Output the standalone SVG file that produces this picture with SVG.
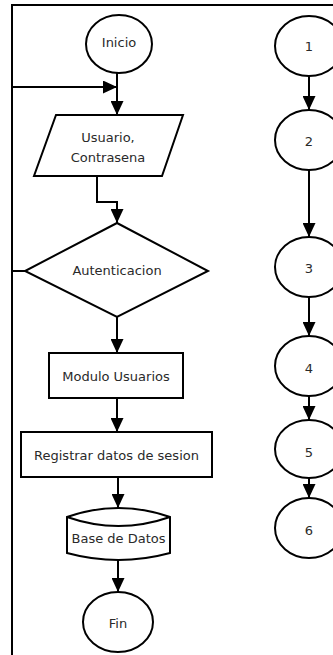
<svg xmlns="http://www.w3.org/2000/svg" width="333" height="655" viewBox="0 0 333 655">
<defs>
<style>
.s{fill:#fff;stroke:#000;stroke-width:2}
.c{fill:none;stroke:#000;stroke-width:2}
.t{font-family:"DejaVu Sans",Verdana,sans-serif;font-size:13px;fill:#2a2a2a;text-anchor:middle;dominant-baseline:central}
</style>
<marker id="a" markerUnits="userSpaceOnUse" markerWidth="14" markerHeight="13" refX="14" refY="6.5" orient="auto">
<path d="M0,0 L14,6.5 L0,13 z" fill="#000"/>
</marker>
</defs>
<rect width="333" height="655" fill="#fff"/>
<path class="c" d="M12,655 V5 H333"/>
<g id="connectors">
<path class="c" d="M117,73 V115" marker-end="url(#a)"/>
<path class="c" d="M25,271 H12 V87 H117" marker-end="url(#a)"/>
<path class="c" d="M97,176 V202 H117 V223" marker-end="url(#a)"/>
<path class="c" d="M117,317 V353" marker-end="url(#a)"/>
<path class="c" d="M117,398 V432" marker-end="url(#a)"/>
<path class="c" d="M118,477 V508" marker-end="url(#a)"/>
<path class="c" d="M118,560 V592" marker-end="url(#a)"/>
<path class="c" d="M309,76 V110" marker-end="url(#a)"/>
<path class="c" d="M309,170 V237" marker-end="url(#a)"/>
<path class="c" d="M309,297 V336" marker-end="url(#a)"/>
<path class="c" d="M309,396 V420" marker-end="url(#a)"/>
<path class="c" d="M309,478 V498" marker-end="url(#a)"/>
</g>
<g id="inicio"><ellipse class="s" cx="119" cy="44" rx="33" ry="29"/><text class="t" x="119" y="42">Inicio</text></g>
<g id="usuario"><polygon class="s" points="56,115 183,115 162,176 34,176"/><text class="t" x="108" y="137">Usuario,</text><text class="t" x="108" y="157">Contrasena</text></g>
<g id="autenticacion"><polygon class="s" points="117,223 208,271 117,317 25,271"/><text class="t" x="117" y="270">Autenticacion</text></g>
<g id="modulo"><rect class="s" x="49" y="353" width="134" height="45"/><text class="t" x="116" y="376">Modulo Usuarios</text></g>
<g id="registrar"><rect class="s" x="21" y="432" width="191" height="45"/><text class="t" x="116.5" y="455">Registrar datos de sesion</text></g>
<g id="basedatos"><path class="s" d="M67,517 Q118.5,499 170,517 V553 Q118.5,567 67,553 Z"/><path class="c" d="M67,517 Q118.5,535 170,517"/><text class="t" x="118.5" y="538">Base de Datos</text></g>
<g id="fin"><ellipse class="s" cx="118" cy="622" rx="35" ry="30"/><text class="t" x="118" y="623">Fin</text></g>
<g id="n1"><ellipse class="s" cx="309" cy="46" rx="34" ry="30"/><text class="t" x="309" y="46">1</text></g>
<g id="n2"><ellipse class="s" cx="309" cy="140" rx="34" ry="30"/><text class="t" x="309" y="141">2</text></g>
<g id="n3"><ellipse class="s" cx="309" cy="267" rx="34" ry="30"/><text class="t" x="309" y="268">3</text></g>
<g id="n4"><ellipse class="s" cx="309" cy="366" rx="34" ry="30"/><text class="t" x="309" y="368">4</text></g>
<g id="n5"><ellipse class="s" cx="309" cy="449" rx="34" ry="29"/><text class="t" x="309" y="452">5</text></g>
<g id="n6"><ellipse class="s" cx="309" cy="528" rx="34" ry="30"/><text class="t" x="309" y="530">6</text></g>
</svg>
